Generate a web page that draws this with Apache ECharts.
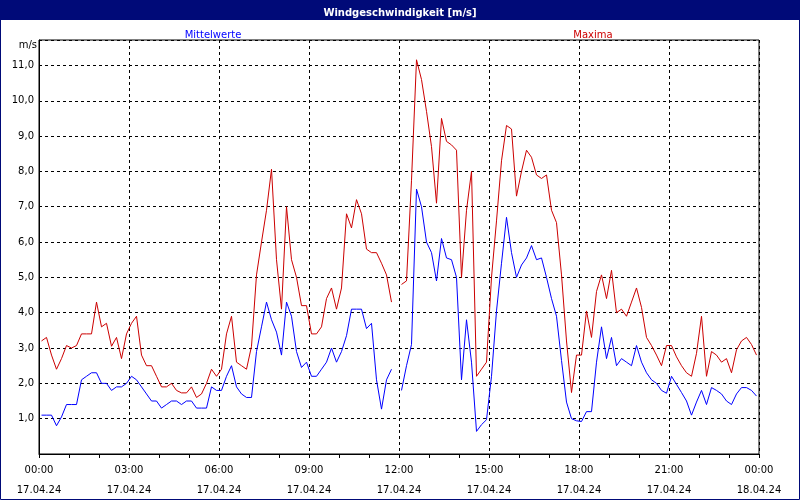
<!DOCTYPE html>
<html>
<head>
<meta charset="utf-8">
<script src="https://cdn.jsdelivr.net/npm/echarts@6/dist/echarts.min.js"></script>
<style>
html, body { margin: 0; padding: 0; background: #fff; }
#chart { width: 800px; height: 500px; }
</style>
</head>
<body>
<div id="chart"></div>
<script>
// 10-Minuten-Werte, 17.04.24
var startMinute = 5;
var stepMinutes = 10;

var mittelwerte = [1.1, 1.1, 1.1, 0.8, 1.05, 1.4, 1.4, 1.4, 2.1, 2.2, 2.3, 2.3, 2.0, 2.0, 1.8, 1.9, 1.9, 2.0, 2.2, 2.1,
    1.9, 1.7, 1.5, 1.5, 1.3, 1.4, 1.5, 1.5, 1.4, 1.5, 1.5, 1.3, 1.3, 1.3, 1.9, 1.8, 1.8, 2.2, 2.5, 1.9,
    1.7, 1.6, 1.6, 2.9, 3.6, 4.3, 3.8, 3.45, 2.8, 4.3, 3.9, 2.9, 2.45, 2.6, 2.2, 2.2, 2.4, 2.6, 3.0, 2.6,
    2.9, 3.35, 4.1, 4.1, 4.1, 3.55, 3.7, 2.1, 1.27, 2.1, 2.4, null, 1.8, 2.5, 3.1, 7.5, 7.0, 6.0, 5.7, 4.9,
    6.1, 5.55, 5.5, 5.0, 2.1, 3.8, 2.6, 0.64, 0.83, 0.97, 2.2, 4.05, 5.4, 6.7, 5.7, 5.0, 5.35, 5.55, 5.9, 5.5,
    5.55, 5.0, 4.4, 3.9, 2.65, 1.47, 1.0, 0.94, 0.92, 1.2, 1.2, 2.6, 3.6, 2.7, 3.3, 2.5, 2.7, 2.6, 2.5, 3.07,
    2.6, 2.3, 2.1, 2.0, 1.8, 1.72, 2.2, 1.97, 1.74, 1.5, 1.1, 1.47, 1.8, 1.4, 1.88, 1.8, 1.7, 1.5, 1.4, 1.7,
    1.88, 1.88, 1.8, 1.64];

var maxima = [3.2, 3.3, 2.8, 2.4, 2.7, 3.07, 3.0, 3.07, 3.4, 3.4, 3.4, 4.3, 3.6, 3.7, 3.05, 3.3, 2.7, 3.4, 3.7, 3.9,
    2.8, 2.5, 2.5, 2.2, 1.9, 1.9, 2.0, 1.8, 1.73, 1.73, 1.9, 1.6, 1.7, 2.0, 2.4, 2.2, 2.4, 3.4, 3.9, 2.6,
    2.5, 2.4, 3.05, 5.07, 6.0, 6.9, 8.06, 5.5, 4.1, 7.0, 5.5, 5.0, 4.2, 4.2, 3.4, 3.4, 3.6, 4.4, 4.7, 4.1,
    4.7, 6.8, 6.4, 7.2, 6.8, 5.8, 5.7, 5.7, 5.4, 5.07, 4.3, null, 4.8, 4.9, 7.75, 11.16, 10.6, 9.7, 8.7, 7.1,
    9.5, 8.85, 8.75, 8.6, 5.0, 6.9, 8.0, 2.2, 2.4, 2.6, 5.0, 6.6, 8.3, 9.3, 9.2, 7.3, 8.0, 8.6, 8.4, 7.9,
    7.8, 7.9, 6.9, 6.55, 5.07, 3.2, 1.74, 2.8, 2.8, 4.05, 3.3, 4.6, 5.07, 4.4, 5.2, 4.0, 4.1, 3.9, 4.3, 4.7,
    4.15, 3.3, 3.07, 2.8, 2.5, 3.07, 3.07, 2.75, 2.5, 2.3, 2.2, 2.85, 3.9, 2.2, 2.9, 2.8, 2.6, 2.7, 2.3, 2.95,
    3.2, 3.3, 3.1, 2.8];

var tickTimes = ['00:00', '03:00', '06:00', '09:00', '12:00', '15:00', '18:00', '21:00', '00:00'];
var tickDates = ['17.04.24', '17.04.24', '17.04.24', '17.04.24', '17.04.24', '17.04.24', '17.04.24', '17.04.24', '18.04.24'];

function toPairs(values) {
    var res = [];
    for (var i = 0; i < values.length; i++) {
        res.push([startMinute + i * stepMinutes, values[i]]);
    }
    return res;
}

var myChart = echarts.init(document.getElementById('chart'));
var font = 'DejaVu Sans';

var option = {
    backgroundColor: '#fff',
    animation: false,
    textStyle: { fontFamily: font },
    title: [
        { text: 'Windgeschwindigkeit [m/s]', left: 'center', top: 3,
          textStyle: { color: '#fff', fontSize: 10, fontWeight: 'bold', fontFamily: font } },
        { text: 'Mittelwerte', left: 208, top: 25, textAlign: 'center',
          textStyle: { color: '#0000ff', fontSize: 10, fontWeight: 'normal', fontFamily: font } },
        { text: 'Maxima', left: 588, top: 25, textAlign: 'center',
          textStyle: { color: '#cc0000', fontSize: 10, fontWeight: 'normal', fontFamily: font } }
    ],
    graphic: [
        { type: 'rect', z: -1, shape: { x: 0, y: 0, width: 800, height: 20 }, style: { fill: '#000a78' } },
        { type: 'rect', z: 10, silent: true, shape: { x: 0.5, y: 0.5, width: 799, height: 499 },
          style: { fill: null, stroke: '#000a78', lineWidth: 1 } },
        { type: 'text', right: 763, top: 40, style: { text: 'm/s', fill: '#000', font: '10px ' + font, textAlign: 'right' } }
    ],
    grid: { left: 39, right: 41, top: 40, bottom: 38, show: true, borderColor: '#000', borderWidth: 1 },
    xAxis: {
        type: 'value',
        min: 0, max: 1440, interval: 180,
        axisLine: { lineStyle: { color: '#000' } },
        axisTick: { show: true, length: 4, lineStyle: { color: '#000' } },
        minorTick: { show: true, splitNumber: 3, length: 4, lineStyle: { color: '#000' } },
        axisLabel: {
            color: '#000', fontSize: 10, lineHeight: 20, margin: 6,
            formatter: function (v) {
                var k = Math.round(v / 180);
                return tickTimes[k] + '\n' + tickDates[k];
            }
        },
        splitLine: { show: true, lineStyle: { color: '#000', type: [3, 3] } }
    },
    yAxis: {
        type: 'value',
        min: 0, max: 11.72, interval: 1,
        axisLine: { show: true, lineStyle: { color: '#000' } },
        axisTick: { show: false },
        axisLabel: {
            color: '#000', fontSize: 10, margin: 5, showMaxLabel: false,
            formatter: function (v) {
                if (v === 0 || v % 1 !== 0) return '';
                return v.toFixed(1).replace('.', ',');
            }
        },
        splitLine: { show: true, lineStyle: { color: '#000', type: [3, 3] } }
    },
    series: [
        { name: 'Mittelwerte', type: 'line', data: toPairs(mittelwerte), showSymbol: false,
          connectNulls: false, lineStyle: { color: '#0000ff', width: 1 }, itemStyle: { color: '#0000ff' } },
        { name: 'Maxima', type: 'line', data: toPairs(maxima), showSymbol: false,
          connectNulls: false, lineStyle: { color: '#cc0000', width: 1 }, itemStyle: { color: '#cc0000' } }
    ]
};

myChart.setOption(option);
</script>
</body>
</html>
